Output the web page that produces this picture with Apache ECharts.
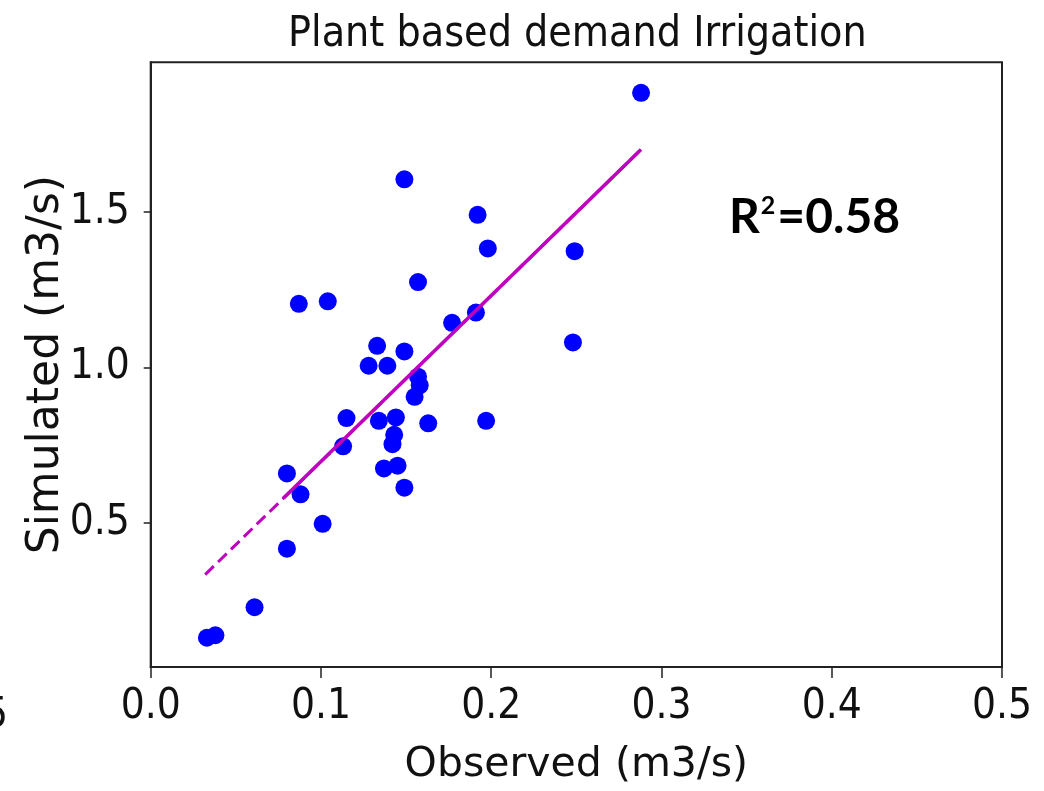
<!DOCTYPE html>
<html>
<head>
<meta charset="utf-8">
<script src="https://cdn.jsdelivr.net/npm/echarts@6/dist/echarts.min.js"></script>
<style>
html,body{margin:0;padding:0;background:#fff;}
#c{width:1044px;height:791px;}
</style>
</head>
<body>
<div id="c"></div>
<script>
// ---- data ----
const observed = [0.288, 0.149, 0.192, 0.198, 0.249, 0.157, 0.087, 0.104, 0.177, 0.191,
  0.248, 0.133, 0.149, 0.128, 0.139, 0.157, 0.158, 0.155, 0.115, 0.134,
  0.144, 0.163, 0.197, 0.143, 0.142, 0.113, 0.080, 0.137, 0.145, 0.149,
  0.088, 0.101, 0.080, 0.061, 0.038, 0.033];
const simulated = [1.882, 1.604, 1.490, 1.382, 1.373, 1.274, 1.204, 1.212, 1.143, 1.176,
  1.080, 1.069, 1.051, 1.005, 1.005, 0.970, 0.942, 0.905, 0.837, 0.828,
  0.839, 0.820, 0.828, 0.783, 0.753, 0.746, 0.659, 0.675, 0.684, 0.613,
  0.592, 0.497, 0.417, 0.229, 0.139, 0.131];
const fitDashX = [0.032, 0.288];
const fitDashY = [0.334, 1.700];
const fitSolidX = [0.078, 0.288];
const fitSolidY = [0.580, 1.700];
const xTicks = [0.0, 0.1, 0.2, 0.3, 0.4, 0.5];
const yTicks = [0.5, 1.0, 1.5];
const titleText = 'Plant based demand Irrigation';
const xName = 'Observed (m3/s)';
const yName = 'Simulated (m3/s)';
const r2Label = 'R';
const r2Sup = '2';
const r2Value = '=0.58';

const zip = (a, b) => a.map((v, i) => [v, b[i]]);
const tickFont = "'DejaVu Sans Condensed', 'DejaVu Sans', sans-serif";

const chart = echarts.init(document.getElementById('c'));
chart.setOption({
  animation: false,
  backgroundColor: '#fff',
  title: {
    text: titleText,
    left: 283, top: 8,
    textStyle: {fontFamily: "'DejaVu Sans Condensed', 'DejaVu Sans'", fontSize: 42.5, fontWeight: 'normal', color: '#111'}
  },
  grid: {left: 150.7, right: 42, top: 62.3, bottom: 117.7, show: true, borderColor: '#222', borderWidth: 2, backgroundColor: 'transparent'},
  xAxis: {
    type: 'value', min: xTicks[0], max: xTicks[xTicks.length - 1], interval: 0.1,
    name: xName, nameLocation: 'middle', nameGap: 78,
    nameTextStyle: {fontFamily: 'DejaVu Sans', fontSize: 41, color: '#111'},
    axisLine: {show: true, lineStyle: {color: '#222', width: 2}},
    axisTick: {show: true, inside: false, length: 11, lineStyle: {color: '#222', width: 1.5}},
    axisLabel: {show: true, margin: 19, fontFamily: tickFont, fontSize: 42, color: '#111',
      formatter: v => v.toFixed(1)},
    splitLine: {show: false}
  },
  yAxis: {
    type: 'value', min: 0.037, max: 1.98,
    name: yName, nameLocation: 'middle', nameGap: 82, nameRotate: 90, nameMoveOverlap: false,
    nameTextStyle: {fontFamily: 'DejaVu Sans', fontSize: 44, color: '#111'},
    axisLine: {show: true, lineStyle: {color: '#222', width: 2}},
    axisTick: {show: true, inside: false, length: 7, customValues: yTicks, lineStyle: {color: '#222', width: 1.5}},
    axisLabel: {show: true, margin: 21, fontFamily: tickFont, fontSize: 42, color: '#111',
      customValues: yTicks, formatter: v => v.toFixed(1)},
    splitLine: {show: false}
  },
  graphic: [
    {type: 'text', left: 729, top: 190, style: {
      text: '{r|' + r2Label + '}{s|' + r2Sup + '}{r|' + r2Value + '}',
      rich: {
        r: {fontFamily: 'Lato', fontWeight: 'bold', fontSize: 48, lineHeight: 56, fill: '#000'},
        s: {fontFamily: 'Lato', fontWeight: 'bold', fontSize: 25, lineHeight: 25, verticalAlign: 'top', padding: [3, 2, 0, 1], fill: '#000'}
      }
    }},
    {type: 'text', right: 1036, top: 695, style: {text: '5', fontFamily: tickFont, fontSize: 42, fill: '#111'}}
  ],
  series: [
    {type: 'scatter', data: zip(observed, simulated), symbol: 'circle', symbolSize: 18,
      itemStyle: {color: '#0000ff', opacity: 1}, z: 2},
    {type: 'line', data: zip(fitDashX, fitDashY), symbol: 'none', silent: true,
      lineStyle: {color: '#bf00bf', width: 3, type: [12, 6]}, z: 3},
    {type: 'line', data: zip(fitSolidX, fitSolidY), symbol: 'none', silent: true,
      lineStyle: {color: '#bf00bf', width: 3.5}, z: 4}
  ]
});
</script>
</body>
</html>
